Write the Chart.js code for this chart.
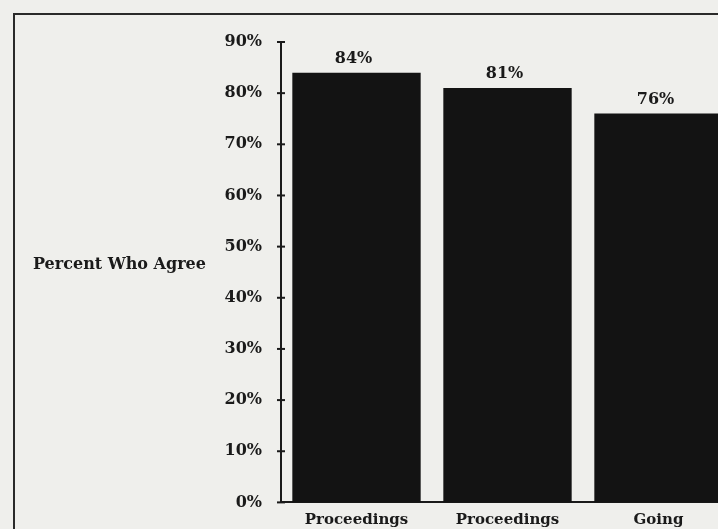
<!DOCTYPE html>
<html>
<head>
<meta charset="utf-8">
<script src="https://cdn.jsdelivr.net/npm/chart.js@4/dist/chart.umd.min.js"></script>
<style>
  html, body { margin: 0; padding: 0; width: 718px; height: 529px; overflow: hidden; background: #efefec; }
  #frame { position: absolute; left: 13px; top: 13px; width: 800px; height: 600px;
           border-top: 2px solid #2a2a2a; border-left: 2px solid #2a2a2a; }
  #c { position: absolute; left: 0; top: 0; }
</style>
</head>
<body>
<div id="frame"></div>
<canvas id="c" width="740" height="531"></canvas>
<script>
// Survey responses: share of respondents who agree, per item
const categories = ['Proceedings', 'Proceedings', 'Going'];
const agreePct = [84, 81, 76];
const yTickValues = [0, 10, 20, 30, 40, 50, 60, 70, 80, 90];
const yAxisLabel = 'Percent Who Agree';

const ink = '#1a1a1a';
const serif = "'DejaVu Serif', serif";

// Value labels above each bar, cross-shaped tick marks on the y axis, side label
const extras = {
  id: 'extras',
  afterDraw(chart) {
    const ctx = chart.ctx;
    const y = chart.scales.y;
    ctx.save();
    ctx.strokeStyle = ink;
    ctx.lineWidth = 2;
    y.ticks.forEach(t => {
      const py = y.getPixelForValue(t.value);
      ctx.beginPath();
      ctx.moveTo(y.right - 4, py);
      ctx.lineTo(y.right + 4, py);
      ctx.stroke();
    });
    ctx.fillStyle = ink;
    ctx.font = "bold 16px " + serif;
    ctx.textAlign = 'center';
    ctx.textBaseline = 'bottom';
    chart.getDatasetMeta(0).data.forEach((bar, i) => {
      ctx.fillText(agreePct[i] + '%', bar.x - 3, bar.y - 6);
    });
    ctx.textAlign = 'left';
    ctx.textBaseline = 'middle';
    ctx.fillText(yAxisLabel, 33, 265);
    ctx.restore();
  }
};

new Chart(document.getElementById('c'), {
  type: 'bar',
  data: {
    labels: categories,
    datasets: [{
      data: agreePct,
      backgroundColor: '#131313',
      borderWidth: 0,
      categoryPercentage: 1,
      barPercentage: 0.85
    }]
  },
  options: {
    responsive: false,
    animation: false,
    layout: { padding: { left: 0, top: 42, right: 6, bottom: 0 } },
    plugins: { legend: { display: false }, tooltip: { enabled: false } },
    scales: {
      x: {
        grid: { display: false, drawTicks: false },
        border: { display: true, color: ink, width: 2 },
        ticks: { color: ink, padding: 9, font: { family: serif, size: 15, weight: 'bold' }, maxRotation: 0 },
        afterFit(scale) { scale.height = 25; }
      },
      y: {
        min: 0,
        max: 90,
        afterBuildTicks(scale) { scale.ticks = yTickValues.map(v => ({ value: v })); },
        grid: { display: false, drawTicks: false },
        border: { display: true, color: ink, width: 2 },
        ticks: {
          color: ink,
          padding: 19,
          font: { family: serif, size: 16, weight: 'bold' },
          callback: v => v + '%'
        },
        afterFit(scale) { scale.width = 281; }
      }
    }
  },
  plugins: [extras]
});
</script>
</body>
</html>
